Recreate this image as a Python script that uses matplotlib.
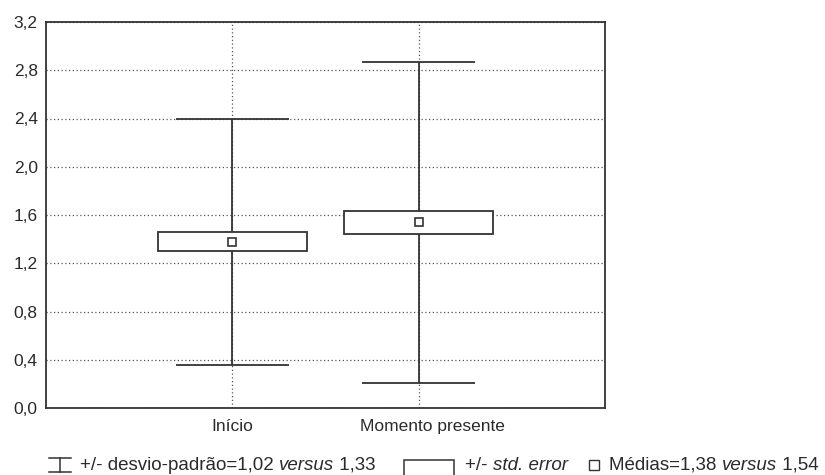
import matplotlib
matplotlib.use("Agg")
import matplotlib.pyplot as plt
from matplotlib.patches import Rectangle
from matplotlib.lines import Line2D
from matplotlib.transforms import ScaledTranslation
from matplotlib.ticker import FuncFormatter

# data
categories = ["Início", "Momento presente"]
means      = [1.38, 1.54]
sd         = [1.02, 1.33]
se         = [0.08, 0.095]
y_ticks    = [0.0, 0.4, 0.8, 1.2, 1.6, 2.0, 2.4, 2.8, 3.2]

plt.rcParams["font.family"] = ["Liberation Sans", "DejaVu Sans"]
INK = "#2b2b2b"

W, H = 825, 475
fig = plt.figure(figsize=(W / 100, H / 100), dpi=100)
ax = fig.add_axes([46 / W, 1 - 408 / H, (605 - 46) / W, (408 - 22) / H])

x = list(range(1, len(categories) + 1))
ax.set_xlim(0, 3)
ax.set_ylim(0, 3.2)
ax.set_yticks(y_ticks)
ax.yaxis.set_major_formatter(FuncFormatter(lambda v, p: f"{v:.1f}".replace(".", ",")))
ax.set_xticks(x)
ax.set_xticklabels(categories)
ax.tick_params(length=0, labelsize=12.5, colors=INK, pad=6)
ax.tick_params(axis="x", pad=8)
# second category label sits a little right of its line in the original
lab = ax.get_xticklabels()[1]
lab.set_transform(lab.get_transform() + ScaledTranslation(0.14, 0, fig.dpi_scale_trans))
ax.grid(True, linestyle=(0, (1, 2)), color="#555555", lw=0.9)
ax.set_axisbelow(True)
for s in ax.spines.values():
    s.set_linewidth(1.3); s.set_color("#333333")

box_w, cap_w = 0.8, 0.61
for xi, m, d, e in zip(x, means, sd, se):
    ax.vlines(xi, m - d, m + d, color="#333333", lw=1.3, zorder=2)
    ax.hlines([m - d, m + d], xi - cap_w / 2, xi + cap_w / 2, color="#333333", lw=1.3, zorder=2)
    ax.add_patch(Rectangle((xi - box_w / 2, m - e), box_w, 2 * e, facecolor="white",
                           edgecolor="#333333", lw=1.3, zorder=3))
    ax.plot(xi, m, marker="s", ms=6, mfc="white", mec="#333333", mew=1.2, zorder=4)

# legend row along the bottom
fig.canvas.draw()
rend = fig.canvas.get_renderer()
ty = 1 - 465 / H

def put(pieces, x0):
    xp = x0
    for txt, style in pieces:
        t = fig.text(xp / W, ty, txt, size=13.5, style=style,
                     va="center", ha="left", color=INK)
        xp += t.get_window_extent(rend).width
    return xp

# error bar symbol
for y0 in (458, 472):
    fig.add_artist(Line2D([49 / W, 71 / W], [1 - y0 / H] * 2, color="#333333", lw=1.1))
fig.add_artist(Line2D([60 / W] * 2, [1 - 458 / H, 1 - 472 / H], color="#333333", lw=1.1))
put([("+/- desvio-padrão=1,02 ", "normal"), ("versus", "italic"), (" 1,33", "normal")], 80)

fig.add_artist(Rectangle((404 / W, 1 - 482 / H), 50 / W, 22 / H, transform=fig.transFigure,
                         facecolor="white", edgecolor="#333333", lw=1.1))
put([("+/- ", "normal"), ("std. error", "italic")], 465)

fig.add_artist(Line2D([594 / W], [ty], marker="s", ms=7, mfc="white", mec="#333333", mew=1.0))
put([("Médias=1,38 ", "normal"), ("versus", "italic"), (" 1,54", "normal")], 609)

fig.savefig("out.png", dpi=100)
